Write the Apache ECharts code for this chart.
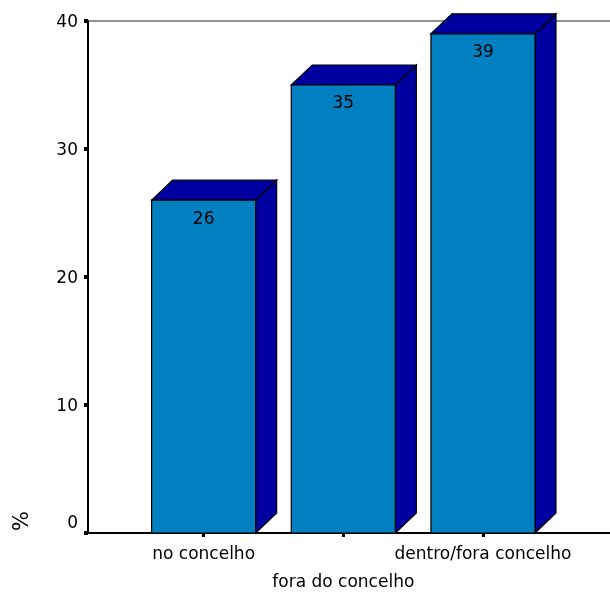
<!DOCTYPE html>
<html>
<head>
<meta charset="utf-8">
<script src="https://cdn.jsdelivr.net/npm/echarts@6/dist/echarts.min.js"></script>
<style>
html,body{margin:0;padding:0;background:#fff;}
#chart{width:610px;height:594px;}
</style>
</head>
<body>
<div id="chart"></div>
<script>
const categories = ['no concelho', 'fora do concelho', 'dentro/fora concelho'];
const values = [26, 35, 39];
const yTicks = [0, 10, 20, 30, 40];
const yAxisTitle = '%';

const FONT = 'DejaVu Sans';
const FRONT = '#0080C0';
const DARK = '#0000A0';
const DX = 21, DY = 20;

const chart = echarts.init(document.getElementById('chart'), null, {renderer: 'canvas'});

function renderBar(params, api) {
  const idx = api.value(0);
  const v = api.value(1);
  const top = api.coord([idx, v]);
  const base = api.coord([idx, 0]);
  const w = api.size([1, 0])[0] * 0.745;
  const L = top[0] - w / 2, R = top[0] + w / 2;
  const T = top[1], B = base[1];
  const stroke = {stroke: '#000', lineWidth: 1.2};
  return {
    type: 'group',
    children: [
      {type: 'polygon', shape: {points: [[R, T], [R + DX, T - DY], [R + DX, B - DY], [R, B]]},
        style: Object.assign({fill: DARK}, stroke)},
      {type: 'polygon', shape: {points: [[L, T], [L + DX, T - DY], [R + DX, T - DY], [R, T]]},
        style: Object.assign({fill: DARK}, stroke)},
      {type: 'rect', shape: {x: L, y: T, width: w, height: B - T},
        style: Object.assign({fill: FRONT}, stroke)},
      {type: 'text', x: top[0], y: T + 19,
        style: {text: String(v), fill: '#000', fontFamily: FONT, fontSize: 17, align: 'center', verticalAlign: 'middle'}}
    ]
  };
}

const option = {
  animation: false,
  backgroundColor: '#fff',
  grid: [
    {left: 88, top: 21, width: 560, bottom: 61, show: true, borderColor: '#222', borderWidth: 1.2,
      containLabel: false, outerBoundsMode: 'none'},
    {left: 133.8, top: 21, width: 419, bottom: 61, containLabel: false, outerBoundsMode: 'none'}
  ],
  xAxis: [
    {gridIndex: 0, type: 'value', min: 0, max: 1,
      axisLine: {show: true, lineStyle: {color: '#000', width: 2}},
      axisTick: {show: false}, axisLabel: {show: false}, splitLine: {show: false}},
    {gridIndex: 1, type: 'category', data: categories,
      axisLine: {show: false},
      axisTick: {show: true, alignWithLabel: true, length: 4, lineStyle: {color: '#000', width: 3}},
      axisLabel: {
        color: '#000', fontFamily: FONT, fontSize: 17, margin: 8, lineHeight: 28,
        interval: 0,
        formatter: function (val, i) { return (i % 2 === 1 ? '\n' : '') + val; }
      },
      splitLine: {show: false}}
  ],
  yAxis: [
    {gridIndex: 0, type: 'value', min: yTicks[0], max: yTicks[yTicks.length - 1], interval: 10,
      axisLine: {show: true, lineStyle: {color: '#000', width: 2}},
      axisTick: {show: true, length: 4, lineStyle: {color: '#000', width: 4}},
      axisLabel: {
        color: '#000', fontFamily: FONT, fontSize: 17, margin: 10,
        formatter: function (v) { return v === 0 ? '{z|0}' : '{n|' + v + '}'; },
        rich: {
          z: {color: '#000', fontFamily: FONT, fontSize: 17, padding: [0, 0, 18, 0]},
          n: {color: '#000', fontFamily: FONT, fontSize: 17, padding: [3, 0, 0, 0]}
        }
      },
      splitLine: {show: false}},
    {gridIndex: 1, type: 'value', min: 0, max: 40, show: false}
  ],
  graphic: [
    {type: 'text', x: 23, y: 521, rotation: Math.PI / 2,
      style: {text: yAxisTitle, fill: '#000', fontFamily: FONT, fontSize: 21, align: 'center', verticalAlign: 'middle'}}
  ],
  series: [{
    type: 'custom',
    xAxisIndex: 1, yAxisIndex: 1,
    clip: false,
    z: 10,
    renderItem: renderBar,
    encode: {x: 0, y: 1},
    data: values.map((v, i) => [i, v])
  }]
};
chart.setOption(option);
</script>
</body>
</html>
